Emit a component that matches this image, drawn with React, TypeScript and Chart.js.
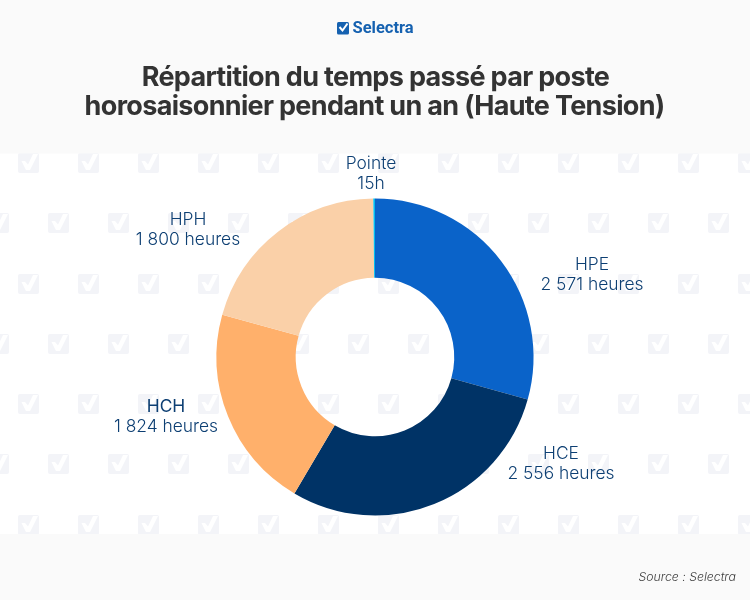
import React, { useEffect, useRef } from "react";
import { Chart, registerables } from "chart.js";

Chart.register(...registerables);

const categories = ["HPE", "HCE", "HCH", "HPH", "Pointe"];
const hours = [2571, 2556, 1824, 1800, 15];
const valueLabels = ["2 571 heures", "2 556 heures", "1 824 heures", "1 800 heures", "15h"];
const colors = ["#0a63c9", "#003366", "#ffb06b", "#fad0a8", "#00bdf0"];
const labelCenters = [
  [592, 274],
  [561, 463],
  [166, 416],
  [188, 229],
  [371, 173],
];
const boldFirstLine = [false, false, true, false, false];
const titleLines = ["Répartition du temps passé par poste", "horosaisonnier pendant un an (Haute Tension)"];

const BAND = "#fafafa";
const MARK = "#f3f4f8";

const backdrop = {
  id: "backdrop",
  beforeDraw(chart: any) {
    const c = chart.ctx;
    c.save();
    c.fillStyle = "#ffffff";
    c.fillRect(0, 0, 750, 600);
    const rows = [153, 213, 274, 334, 394, 454, 515];
    rows.forEach((y, r) => {
      for (let x = r % 2 === 0 ? 18 : -12; x < 750; x += 60) {
        c.fillStyle = MARK;
        c.beginPath();
        c.roundRect(x, y, 21, 20, 2);
        c.fill();
        c.fillStyle = "#ffffff";
        c.beginPath();
        c.moveTo(x + 3.5, y + 8);
        c.lineTo(x + 7, y + 8);
        c.lineTo(x + 10, y + 11.5);
        c.lineTo(x + 15, y + 1);
        c.lineTo(x + 20, y + 1);
        c.lineTo(x + 12, y + 17);
        c.lineTo(x + 8, y + 17);
        c.closePath();
        c.fill();
      }
    });
    c.fillStyle = BAND;
    c.fillRect(0, 0, 750, 153.5);
    c.fillRect(0, 534, 750, 66);

    // logo
    c.fillStyle = "#1561b0";
    c.beginPath();
    c.roundRect(337, 22, 12, 12.5, 1.5);
    c.fill();
    c.strokeStyle = "#ffffff";
    c.lineWidth = 2;
    c.beginPath();
    c.moveTo(339.5, 27);
    c.lineTo(342.5, 30.5);
    c.lineTo(347.5, 23.5);
    c.stroke();
    c.font = "700 16.5px Roboto";
    c.textAlign = "left";
    c.textBaseline = "middle";
    c.fillText("Selectra", 352.5, 28.5);

    // title
    c.fillStyle = "#333333";
    c.font = "700 27px Inter";
    c.textAlign = "center";
    c.letterSpacing = "-0.67px";
    c.fillText(titleLines[0], 375.5, 77.5);
    c.fillText(titleLines[1], 374.5, 106.5);
    c.letterSpacing = "0px";

    // source
    c.fillStyle = "#3d3d3d";
    c.font = "italic 300 12.3px Inter";
    c.textAlign = "right";
    c.fillText("Source : Selectra", 736, 577);
    c.restore();
  },
};

const sliceLabels = {
  id: "sliceLabels",
  afterDraw(chart: any) {
    const c = chart.ctx;
    c.save();
    c.textAlign = "center";
    c.textBaseline = "middle";
    c.fillStyle = "#0d3f73";
    categories.forEach((name, i) => {
      const [x, y] = labelCenters[i];
      c.font = `${boldFirstLine[i] ? 400 : 300} 17.4px Inter`;
      c.fillText(name, x, y - 9.5);
      c.font = "300 17.4px Inter";
      c.fillText(valueLabels[i], x, y + 11);
    });
    c.restore();
  },
};

export default function App() {
  const ref = useRef<HTMLCanvasElement>(null);
  useEffect(() => {
    document.body.style.margin = "0";
    const chart = new Chart(ref.current!, {
      type: "doughnut",
      data: {
        labels: categories,
        datasets: [{ data: hours, backgroundColor: colors, borderWidth: 0 }],
      },
      options: {
        animation: false,
        responsive: false,
        cutout: "50%",
        layout: { padding: { top: 198.5, bottom: 84.5, left: 0, right: 0 } },
        plugins: { legend: { display: false }, tooltip: { enabled: false }, title: { display: false } },
      },
      plugins: [backdrop, sliceLabels],
    } as any);
    return () => chart.destroy();
  }, []);
  return <canvas ref={ref} width={750} height={600} style={{ display: "block", width: 750, height: 600 }} />;
}
